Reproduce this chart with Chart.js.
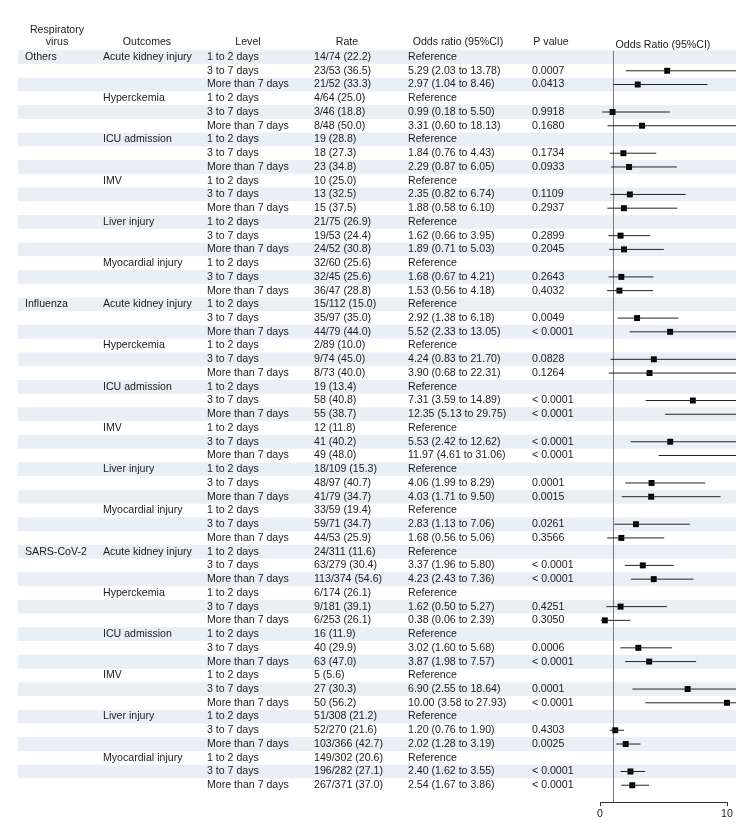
<!DOCTYPE html>
<html>
<head>
<meta charset="utf-8">
<title>Forest plot</title>
<script src="https://cdn.jsdelivr.net/npm/chart.js@4.4.1/dist/chart.umd.min.js"></script>
<style>
  html, body { margin: 0; padding: 0; background: #fff; }
  #wrap { position: relative; width: 754px; height: 838px; }
</style>
</head>
<body>
<div id="wrap"><canvas id="forest" width="754" height="838"></canvas></div>
<script>
// table columns
const viruses = ['Others', 'Influenza', 'SARS-CoV-2'];
const outcomes = ['Acute kidney injury', 'Hyperckemia', 'ICU admission', 'IMV', 'Liver injury', 'Myocardial injury'];
const levels = ['1 to 2 days', '3 to 7 days', 'More than 7 days'];

const rates = [
  '14/74 (22.2)', '23/53 (36.5)', '21/52 (33.3)',
  '4/64 (25.0)', '3/46 (18.8)', '8/48 (50.0)',
  '19 (28.8)', '18 (27.3)', '23 (34.8)',
  '10 (25.0)', '13 (32.5)', '15 (37.5)',
  '21/75 (26.9)', '19/53 (24.4)', '24/52 (30.8)',
  '32/60 (25.6)', '32/45 (25.6)', '36/47 (28.8)',
  '15/112 (15.0)', '35/97 (35.0)', '44/79 (44.0)',
  '2/89 (10.0)', '9/74 (45.0)', '8/73 (40.0)',
  '19 (13.4)', '58 (40.8)', '55 (38.7)',
  '12 (11.8)', '41 (40.2)', '49 (48.0)',
  '18/109 (15.3)', '48/97 (40.7)', '41/79 (34.7)',
  '33/59 (19.4)', '59/71 (34.7)', '44/53 (25.9)',
  '24/311 (11.6)', '63/279 (30.4)', '113/374 (54.6)',
  '6/174 (26.1)', '9/181 (39.1)', '6/253 (26.1)',
  '16 (11.9)', '40 (29.9)', '63 (47.0)',
  '5 (5.6)', '27 (30.3)', '50 (56.2)',
  '51/308 (21.2)', '52/270 (21.6)', '103/366 (42.7)',
  '149/302 (20.6)', '196/282 (27.1)', '267/371 (37.0)'
];

// odds ratios, null = reference level
const orEst = [
  null, 5.29, 2.97,  null, 0.99, 3.31,  null, 1.84, 2.29,
  null, 2.35, 1.88,  null, 1.62, 1.89,  null, 1.68, 1.53,
  null, 2.92, 5.52,  null, 4.24, 3.90,  null, 7.31, 12.35,
  null, 5.53, 11.97, null, 4.06, 4.03,  null, 2.83, 1.68,
  null, 3.37, 4.23,  null, 1.62, 0.38,  null, 3.02, 3.87,
  null, 6.90, 10.00, null, 1.20, 2.02,  null, 2.40, 2.54
];
const orLow = [
  null, 2.03, 1.04,  null, 0.18, 0.60,  null, 0.76, 0.87,
  null, 0.82, 0.58,  null, 0.66, 0.71,  null, 0.67, 0.56,
  null, 1.38, 2.33,  null, 0.83, 0.68,  null, 3.59, 5.13,
  null, 2.42, 4.61,  null, 1.99, 1.71,  null, 1.13, 0.56,
  null, 1.96, 2.43,  null, 0.50, 0.06,  null, 1.60, 1.98,
  null, 2.55, 3.58,  null, 0.76, 1.28,  null, 1.62, 1.67
];
const orHigh = [
  null, 13.78, 8.46,  null, 5.50, 18.13, null, 4.43, 6.05,
  null, 6.74, 6.10,   null, 3.95, 5.03,  null, 4.21, 4.18,
  null, 6.18, 13.05,  null, 21.70, 22.31, null, 14.89, 29.75,
  null, 12.62, 31.06, null, 8.29, 9.50,  null, 7.06, 5.06,
  null, 5.80, 7.36,   null, 5.27, 2.39,  null, 5.68, 7.57,
  null, 18.64, 27.93, null, 1.90, 3.19,  null, 3.55, 3.86
];
const pValues = [
  '', '0.0007', '0.0413',   '', '0.9918', '0.1680',   '', '0.1734', '0.0933',
  '', '0.1109', '0.2937',   '', '0.2899', '0.2045',   '', '0.2643', '0.4032',
  '', '0.0049', '< 0.0001', '', '0.0828', '0.1264',   '', '< 0.0001', '< 0.0001',
  '', '< 0.0001', '< 0.0001', '', '0.0001', '0.0015', '', '0.0261', '0.3566',
  '', '< 0.0001', '< 0.0001', '', '0.4251', '0.3050', '', '0.0006', '< 0.0001',
  '', '0.0001', '< 0.0001', '', '0.4303', '0.0025',   '', '< 0.0001', '< 0.0001'
];
const xTicks = [0, 10];

const FONT = '10.6px "Liberation Sans", Arial, sans-serif';
const TEXT = '#1c1c1c';

// build the two datasets
const ciPoints = [];
const estPoints = [];
orEst.forEach((v, i) => {
  if (v === null) return;
  ciPoints.push({ x: orLow[i], y: i }, { x: orHigh[i], y: i }, { x: null, y: null });
  estPoints.push({ x: v, y: i });
});

function orLabel(i) {
  if (orEst[i] === null) return 'Reference';
  return `${orEst[i].toFixed(2)} (${orLow[i].toFixed(2)} to ${orHigh[i].toFixed(2)})`;
}

// bands + reference line + table text
const tablePlugin = {
  id: 'forestTable',
  beforeDraw(chart) {
    const { ctx } = chart;
    const y = chart.scales.y;
    ctx.save();
    ctx.fillStyle = '#e8eff7';
    for (let i = 0; i < rates.length; i += 2) {
      const top = y.getPixelForValue(i - 0.5);
      const bot = y.getPixelForValue(i + 0.5);
      ctx.fillRect(18, top, 736 - 18, bot - top);
    }
    ctx.restore();
  },
  beforeDatasetsDraw(chart) {
    const { ctx, chartArea } = chart;
    const px = Math.round(chart.scales.x.getPixelForValue(1)) + 0.5;
    ctx.save();
    ctx.strokeStyle = '#7a7a7a';
    ctx.lineWidth = 1;
    ctx.beginPath();
    ctx.moveTo(px, chartArea.top);
    ctx.lineTo(px, chartArea.bottom);
    ctx.stroke();
    ctx.restore();
  },
  afterDraw(chart) {
    const { ctx } = chart;
    const y = chart.scales.y;
    ctx.save();
    ctx.font = FONT;
    ctx.fillStyle = TEXT;
    ctx.textBaseline = 'middle';

    // headers
    ctx.textAlign = 'center';
    ctx.fillText('Respiratory', 57, 30);
    ctx.fillText('virus', 57, 42);
    ctx.fillText('Outcomes', 147, 42);
    ctx.fillText('Level', 248, 42);
    ctx.fillText('Rate', 347, 42);
    ctx.fillText('Odds ratio (95%CI)', 458, 42);
    ctx.fillText('P value', 551, 42);
    ctx.fillText('Odds Ratio (95%CI)', 663, 45);

    ctx.textAlign = 'left';
    rates.forEach((r, i) => {
      const py = y.getPixelForValue(i);
      if (i % 18 === 0) ctx.fillText(viruses[i / 18], 25, py);
      if (i % 3 === 0) ctx.fillText(outcomes[(i / 3) % 6], 103, py);
      ctx.fillText(levels[i % 3], 207, py);
      ctx.fillText(r, 314, py);
      ctx.fillText(orLabel(i), 408, py);
      ctx.fillText(pValues[i], 532, py);
    });
    ctx.restore();
  }
};

new Chart(document.getElementById('forest'), {
  type: 'scatter',
  data: {
    datasets: [
      {
        label: '95% CI',
        data: ciPoints,
        showLine: true,
        spanGaps: false,
        borderColor: '#222',
        borderWidth: 1,
        pointRadius: 0,
        clip: { left: 10, top: 5, right: 9, bottom: 5 }
      },
      {
        label: 'Odds ratio',
        data: estPoints,
        pointStyle: 'rect',
        pointRadius: 4.2,
        backgroundColor: '#000',
        borderWidth: 0,
        clip: { left: 10, top: 5, right: 9, bottom: 5 }
      }
    ]
  },
  options: {
    responsive: false,
    animation: false,
    devicePixelRatio: 1,
    layout: { padding: { left: 600, right: 27, top: 51, bottom: 16 } },
    plugins: { legend: { display: false }, tooltip: { enabled: false } },
    scales: {
      x: {
        type: 'linear',
        min: xTicks[0],
        max: xTicks[xTicks.length - 1],
        afterBuildTicks: (scale) => { scale.ticks = xTicks.map(v => ({ value: v })); },
        afterFit: (scale) => { scale.height = 20; },
        ticks: { color: TEXT, font: { family: '"Liberation Sans", Arial, sans-serif', size: 10.6 }, padding: 2 },
        grid: { drawOnChartArea: false, drawTicks: true, tickLength: 4, color: '#333' },
        border: { display: true, color: '#333', width: 1 }
      },
      y: {
        type: 'linear',
        display: false,
        reverse: true,
        min: -0.44,
        max: 54.22
      }
    }
  },
  plugins: [tablePlugin]
});
</script>
</body>
</html>
